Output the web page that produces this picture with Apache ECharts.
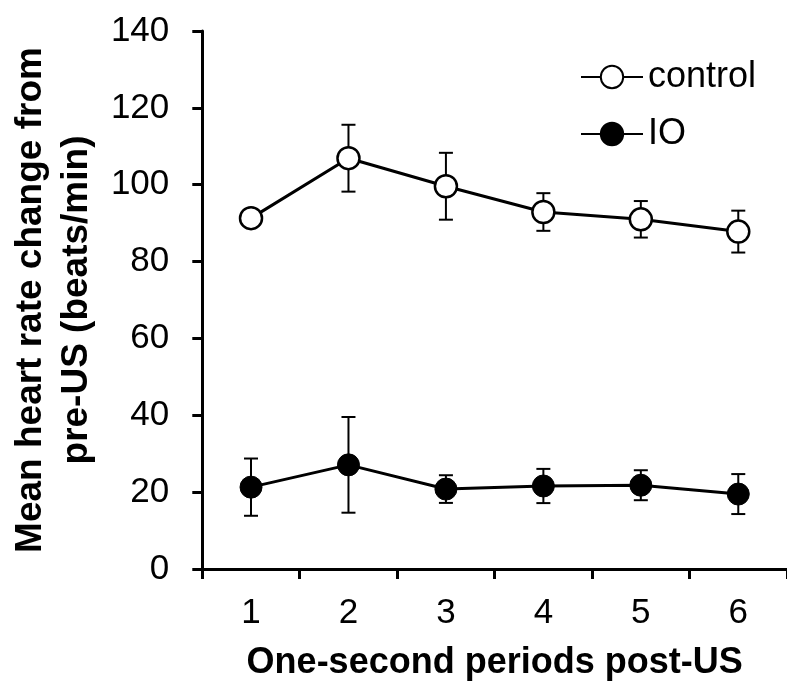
<!DOCTYPE html>
<html>
<head>
<meta charset="utf-8">
<script src="https://cdn.jsdelivr.net/npm/echarts@6/dist/echarts.min.js"></script>
<style>html,body{margin:0;padding:0;background:#fff;}#chart{width:787px;height:686px;}</style>
</head>
<body>
<div id="chart"></div>
<script>
var categories = ['1', '2', '3', '4', '5', '6'];
var controlMean = [91.3, 106.9, 99.6, 92.9, 91.0, 87.8];
var controlErr = [2, 8.7, 8.7, 4.9, 4.75, 5.45];
var ioMean = [21.3, 27.1, 20.8, 21.6, 21.8, 19.5];
var ioErr = [7.45, 12.45, 3.6, 4.45, 3.9, 5.2];
var yTicks = [0, 20, 40, 60, 80, 100, 120, 140];

var FONT = '"Liberation Sans", Arial, Helvetica, sans-serif';

function errData(means, errs) {
  return means.map(function (m, i) { return [i, m - errs[i], m + errs[i]]; });
}
function renderErr(params, api) {
  var x = api.value(0);
  var lo = api.coord([x, api.value(1)]);
  var hi = api.coord([x, api.value(2)]);
  var cap = 7;
  var st = { stroke: '#000', lineWidth: 2 };
  return {
    type: 'group',
    children: [
      { type: 'line', shape: { x1: lo[0], y1: lo[1], x2: hi[0], y2: hi[1] }, style: st },
      { type: 'line', shape: { x1: lo[0] - cap, y1: lo[1], x2: lo[0] + cap, y2: lo[1] }, style: st },
      { type: 'line', shape: { x1: hi[0] - cap, y1: hi[1], x2: hi[0] + cap, y2: hi[1] }, style: st }
    ]
  };
}

var chart = echarts.init(document.getElementById('chart'), null, { renderer: 'canvas' });
chart.setOption({
  animation: false,
  backgroundColor: '#fff',
  textStyle: { fontFamily: FONT, color: '#000' },
  grid: { left: 192, top: 31, width: 600, height: 539, containLabel: false },
  legend: {
    orient: 'vertical',
    left: 575,
    top: 54,
    itemWidth: 62,
    itemHeight: 28,
    itemGap: 21,
    textStyle: { fontFamily: FONT, fontSize: 36, color: '#000', lineHeight: 36 },
    data: ['control', 'IO']
  },
  xAxis: {
    type: 'category',
    data: categories,
    boundaryGap: true,
    name: 'One-second periods post-US',
    nameLocation: 'middle',
    nameGap: 76,
    nameTextStyle: { fontFamily: FONT, fontSize: 36, fontWeight: 'bold', color: '#000' },
    axisLine: { lineStyle: { color: '#000', width: 3 } },
    axisTick: { show: true, alignWithLabel: false, length: 10, lineStyle: { color: '#000', width: 3 } },
    axisLabel: { fontFamily: FONT, fontSize: 35, color: '#000', margin: 27 },
    splitLine: { show: false }
  },
  yAxis: {
    type: 'value',
    min: yTicks[0],
    max: yTicks[yTicks.length - 1],
    interval: 20,
    name: 'Mean heart rate change from\npre-US (beats/min)',
    nameLocation: 'middle',
    nameGap: 98,
    nameTextStyle: { fontFamily: FONT, fontSize: 37, fontWeight: 'bold', color: '#000', lineHeight: 46 },
    axisLine: { show: true, lineStyle: { color: '#000', width: 3 } },
    axisTick: { show: true, length: 10, lineStyle: { color: '#000', width: 3 } },
    axisLabel: { fontFamily: FONT, fontSize: 35, color: '#000', margin: 33 },
    splitLine: { show: false }
  },
  series: [
    {
      type: 'custom',
      name: 'controlErr',
      renderItem: renderErr,
      data: errData(controlMean, controlErr),
      encode: { x: 0, y: [1, 2] },
      z: 1,
      silent: true
    },
    {
      type: 'custom',
      name: 'ioErr',
      renderItem: renderErr,
      data: errData(ioMean, ioErr),
      encode: { x: 0, y: [1, 2] },
      z: 1,
      silent: true
    },
    {
      type: 'line',
      name: 'control',
      data: controlMean,
      symbol: 'circle',
      symbolSize: 22,
      showAllSymbol: true,
      lineStyle: { color: '#000', width: 3 },
      itemStyle: { color: '#fff', borderColor: '#000', borderWidth: 2.5 },
      z: 3
    },
    {
      type: 'line',
      name: 'IO',
      data: ioMean,
      symbol: 'circle',
      symbolSize: 22,
      showAllSymbol: true,
      lineStyle: { color: '#000', width: 3 },
      itemStyle: { color: '#000', borderColor: '#000', borderWidth: 1 },
      z: 3
    }
  ]
});
</script>
</body>
</html>
